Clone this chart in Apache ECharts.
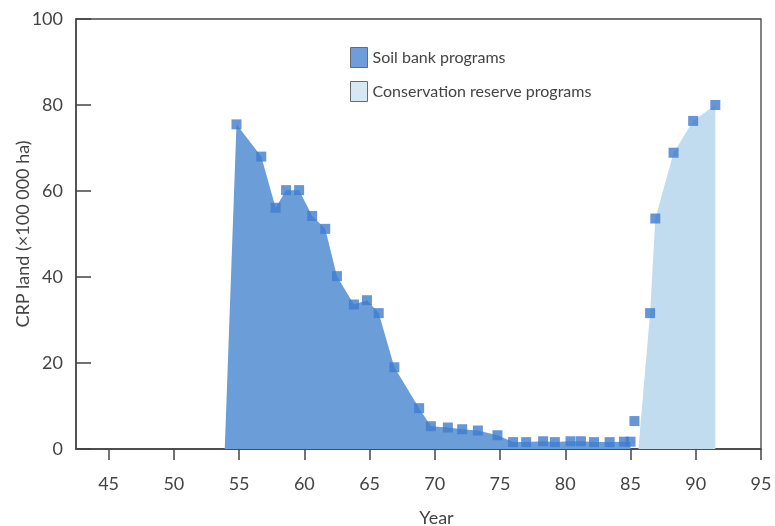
<!DOCTYPE html>
<html>
<head>
<meta charset="utf-8">
<script src="https://cdn.jsdelivr.net/npm/echarts@6/dist/echarts.min.js"></script>
<style>
  html, body { margin: 0; padding: 0; background: #fff; }
  #crpChart { width: 775px; height: 526px; }
</style>
</head>
<body>
<div id="crpChart"></div>
<script>
// values (year, land in 100 000 ha)
var soilYears  = [54.8, 56.7, 57.8, 58.6, 59.6, 60.6, 61.6, 62.5, 63.8, 64.8, 65.7, 66.9, 68.8, 69.7, 71.0, 72.1, 73.3, 74.8, 76.0, 77.0, 78.3, 79.2, 80.4, 81.2, 82.2, 83.4, 84.5, 85.0];
var soilValues = [75.5, 68.0, 56.1, 60.2, 60.2, 54.2, 51.2, 40.2, 33.6, 34.6, 31.6, 19.0, 9.5, 5.3, 5.0, 4.6, 4.3, 3.2, 1.6, 1.6, 1.8, 1.6, 1.8, 1.8, 1.6, 1.6, 1.7, 1.7];
var crpYears   = [85.3, 86.5, 86.9, 88.3, 89.8, 91.5];
var crpValues  = [6.5, 31.6, 53.6, 68.9, 76.3, 80.0];
// where each shaded area leaves the baseline
var soilStart = [53.9, 0];
var crpStart  = [85.6, 0];

var xTicks = [45, 50, 55, 60, 65, 70, 75, 80, 85, 90, 95];

var soilName = 'Soil bank programs';
var crpName = 'Conservation reserve programs';

function pairs(xs, ys) {
    return xs.map(function (x, i) { return [x, ys[i]]; });
}

var soilPoints = pairs(soilYears, soilValues);
var crpPoints = pairs(crpYears, crpValues);
// the 6.5 point sits left of the light area, so the area starts after it
var crpArea = [crpStart].concat(crpPoints.slice(1));

var crpChart = echarts.init(document.getElementById('crpChart'));
var font = 'Lato, "Open Sans", sans-serif';
var axisColor = '#444';

option = {
    animation: false,
    textStyle: { fontFamily: font },
    grid: {
        left: 76, right: 14, top: 19, bottom: 77,
        outerBoundsMode: 'none',
        containLabel: false,
        show: true,
        borderColor: axisColor,
        borderWidth: 1.3
    },
    legend: {
        orient: 'vertical',
        left: 345,
        top: 42,
        itemWidth: 17,
        itemHeight: 20,
        itemGap: 13,
        selectedMode: false,
        textStyle: { fontSize: 16, color: '#444', fontFamily: font },
        data: [
            { name: soilName, icon: 'rect', itemStyle: { color: '#6f9ddb', borderColor: '#6a6a6a', borderWidth: 1 } },
            { name: crpName, icon: 'rect', itemStyle: { color: '#d5e8f4', borderColor: '#6a6a6a', borderWidth: 1 } }
        ]
    },
    xAxis: {
        type: 'value',
        min: 42.5,
        max: 95,
        name: 'Year',
        nameLocation: 'middle',
        nameGap: 60,
        nameMoveOverlap: false,
        nameTextStyle: { fontSize: 18, color: '#444', padding: [0, 0, 0, 36] },
        splitLine: { show: false },
        axisLine: { lineStyle: { color: axisColor, width: 1.5 } },
        axisTick: { customValues: xTicks, length: 11, lineStyle: { color: axisColor, width: 1.5 } },
        axisLabel: { customValues: xTicks, margin: 26, fontSize: 18, color: '#444' }
    },
    yAxis: {
        type: 'value',
        min: 0,
        max: 100,
        interval: 20,
        name: 'CRP land (×100 000 ha)',
        nameLocation: 'middle',
        nameGap: 44,
        nameMoveOverlap: false,
        nameTextStyle: { fontSize: 18, color: '#444' },
        splitLine: { show: false },
        axisLine: { show: true, lineStyle: { color: axisColor, width: 1.5 } },
        axisTick: { show: true, inside: true, length: 15, lineStyle: { color: axisColor, width: 1.5 } },
        axisLabel: { margin: 13, fontSize: 18, color: '#444' }
    },
    series: [
        {
            name: soilName,
            type: 'line',
            symbol: 'none',
            color: '#6b9ed9',
            lineStyle: { width: 0 },
            areaStyle: { color: '#6b9ed9', opacity: 1 },
            data: [soilStart].concat(soilPoints),
            z: 1
        },
        {
            name: crpName,
            type: 'line',
            symbol: 'none',
            color: '#c2dcef',
            lineStyle: { width: 0 },
            areaStyle: { color: '#c2dcef', opacity: 1 },
            data: crpArea,
            z: 1
        },
        {
            name: 'soil points',
            type: 'scatter',
            symbol: 'rect',
            symbolSize: 10,
            itemStyle: { color: '#3f7ccd' },
            data: soilPoints,
            z: 3
        },
        {
            name: 'crp points',
            type: 'scatter',
            symbol: 'rect',
            symbolSize: 10,
            itemStyle: { color: '#3f7ccd' },
            data: crpPoints,
            z: 3
        }
    ]
};

crpChart.setOption(option);
</script>
</body>
</html>
